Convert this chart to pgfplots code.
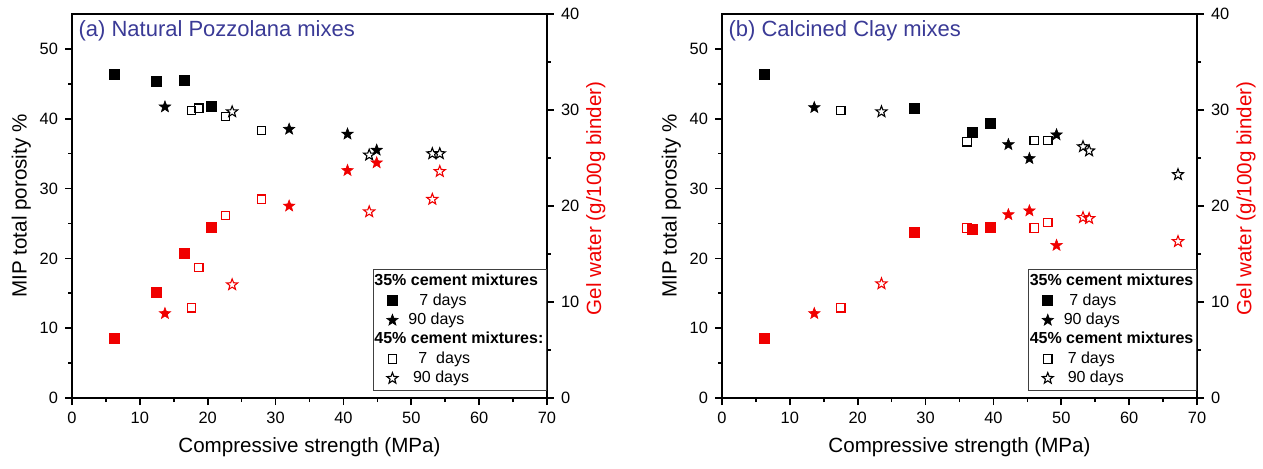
\documentclass[border=0pt]{standalone}
\usepackage{pgfplots}
\pgfplotsset{compat=1.18}
\usepackage{pgfplotstable}
\usepackage{fontspec}
\setmainfont{Liberation Sans}

\definecolor{titleblue}{RGB}{58,58,150}
\definecolor{gelred}{RGB}{240,0,0}

% five-pointed star marks: filled and outlined
\pgfdeclareplotmark{pstar*}{%
  \pgfpathmoveto{\pgfpointpolar{90}{\pgfplotmarksize}}%
  \foreach \k in {0,...,4}{%
    \pgfpathlineto{\pgfpointpolar{126+72*\k}{0.42\pgfplotmarksize}}%
    \pgfpathlineto{\pgfpointpolar{162+72*\k}{\pgfplotmarksize}}%
  }%
  \pgfpathclose
  \pgfusepathqfillstroke}
\pgfdeclareplotmark{pstar}{%
  \pgfpathmoveto{\pgfpointpolar{90}{\pgfplotmarksize}}%
  \foreach \k in {0,...,4}{%
    \pgfpathlineto{\pgfpointpolar{126+72*\k}{0.42\pgfplotmarksize}}%
    \pgfpathlineto{\pgfpointpolar{162+72*\k}{\pgfplotmarksize}}%
  }%
  \pgfpathclose
  \pgfusepathqstroke}

% columns: compressive strength (MPa), MIP total porosity (%), gel water (g/100g binder)
% (a) natural pozzolana
\pgfplotstableread{
x    por   gel
6.2  46.4  6.2
12.5 45.3  11.0
16.5 45.5  15.1
20.5 41.7  17.8
}\npSevenA
\pgfplotstableread{
x    por   gel
13.7 41.7  8.8
32.0 38.5  20.0
40.6 37.8  23.7
44.9 35.5  24.5
}\npNinetyA
\pgfplotstableread{
x    por   gel
17.6 41.2  9.4
18.7 41.5  13.6
22.6 40.3  19.0
27.9 38.3  20.7
}\npSevenB
\pgfplotstableread{
x    por   gel
23.6 41.0  11.8
43.8 34.8  19.4
53.1 35.0  20.7
54.2 35.0  23.6
}\npNinetyB
% (b) calcined clay
\pgfplotstableread{
x    por   gel
6.2  46.4  6.2
28.3 41.5  17.3
36.9 38.0  17.6
39.6 39.4  17.8
}\ccSevenA
\pgfplotstableread{
x    por   gel
13.6 41.6  8.8
42.2 36.3  19.1
45.3 34.3  19.5
49.3 37.7  15.9
}\ccNinetyA
\pgfplotstableread{
x    por   gel
17.5 41.2  9.4
36.1 36.7  17.7
46.0 36.9  17.7
48.0 36.9  18.3
}\ccSevenB
\pgfplotstableread{
x    por   gel
23.5 41.0  11.9
53.2 36.0  18.8
54.1 35.4  18.7
67.2 32.0  16.3
}\ccNinetyB

\pgfplotsset{
  panel base/.style={
    scale only axis, width=237.5pt, height=192pt, anchor=south west,
    xmin=0, xmax=70, clip=false,
    tick align=outside,
    major tick length=3.5pt, minor tick length=2pt,
    every tick/.append style={black, line width=0.8pt},
    axis line style={line width=1pt},
    /pgf/number format/assume math mode=true,
    tick label style={font=\fontsize{8.2}{9}\selectfont},
    label style={font=\fontsize{10.3}{12}\selectfont},
  },
  porosity axis/.style={
    panel base,
    ymin=0, ymax=55,
    xtick={0,10,...,70}, minor x tick num=1,
    ytick={0,10,...,50}, minor y tick num=1,
    xtick pos=left, ytick pos=left,
    xlabel={Compressive strength (MPa)},
    ylabel={MIP total porosity \%},
    xlabel style={at={(axis description cs:0.5,-0.128)}, anchor=center},
    ylabel style={at={(axis description cs:-0.107,0.5)}, anchor=center},
  },
  gel axis/.style={
    panel base,
    axis x line=none, axis y line*=right,
    ymin=0, ymax=40,
    ytick={0,10,...,40}, minor y tick num=1,
    ylabel={Gel water (g/100g binder)},
    ylabel style={text=gelred, at={(axis description cs:1.103,0.52)}, anchor=center},
    legend style={
      at={(axis description cs:1,0.018)}, anchor=south east,
      draw=black!75, line width=0.6pt, fill=white,
      inner xsep=1pt, inner ysep=1.2pt,
      font=\fontsize{8}{9.5}\selectfont,
      nodes={inner ysep=1.2pt, inner xsep=0.5pt},
      cells={anchor=west},
    },
  },
  fsq/.style={only marks, mark=square*, mark size=2.5pt, forget plot},
  osq/.style={only marks, mark=square, mark size=2.1pt, line width=0.6pt, forget plot},
  fst/.style={only marks, mark=pstar*, mark size=3pt, line width=0.3pt, forget plot},
  ost/.style={only marks, mark=pstar, mark size=2.9pt, line width=0.55pt, forget plot},
  header/.style={legend image code/.code={}},
  % legend symbol: one mark in a fixed-width cell
  mkimg/.style={legend image code/.code={%
      \path[draw=none, fill=none] (0pt,-1pt) rectangle (16pt,1pt);
      \draw[##1] plot coordinates {(8.5pt,0pt)};}},
  lg fsq/.style={only marks, mark=square*, mark size=2.5pt, black, mkimg},
  lg fst/.style={only marks, mark=pstar*, mark size=3pt, line width=0.3pt, black, mkimg},
  lg osq/.style={only marks, mark=square, mark size=2.1pt, line width=0.6pt, black, mkimg},
  lg ost/.style={only marks, mark=pstar, mark size=2.9pt, line width=0.55pt, black, mkimg},
}

\begin{document}
\begin{tikzpicture}
\useasboundingbox (0,0) rectangle (631.5pt,234pt);

% ---------- (a) Natural Pozzolana ----------
\begin{axis}[porosity axis, at={(36pt,35pt)}]
  \addplot[fsq, black] table[x=x, y=por] {\npSevenA};
  \addplot[fst, black] table[x=x, y=por] {\npNinetyA};
  \addplot[osq, black] table[x=x, y=por] {\npSevenB};
  \addplot[ost, black] table[x=x, y=por] {\npNinetyB};
  \node[anchor=west, inner sep=0pt, text=titleblue, font=\fontsize{11}{13}\selectfont]
    at (axis description cs:0.013,0.956) {(a) Natural Pozzolana mixes};
\end{axis}
\begin{axis}[gel axis, at={(36pt,35pt)}]
  \addplot[fsq, gelred] table[x=x, y=gel] {\npSevenA};
  \addplot[fst, gelred] table[x=x, y=gel] {\npNinetyA};
  \addplot[osq, gelred] table[x=x, y=gel] {\npSevenB};
  \addplot[ost, gelred] table[x=x, y=gel] {\npNinetyB};
  \addlegendimage{header}
  \addlegendentry{\hspace*{-17pt}\textbf{35\% cement mixtures}}
  \addlegendimage{lg fsq}
  \addlegendentry{\hspace*{5.5pt}7 days}
  \addlegendimage{lg fst}
  \addlegendentry{90 days}
  \addlegendimage{header}
  \addlegendentry{\hspace*{-17pt}\textbf{45\% cement mixtures:}}
  \addlegendimage{lg osq}
  \addlegendentry{\hspace*{5pt}7\ \ days}
  \addlegendimage{lg ost}
  \addlegendentry{\hspace*{2.3pt}90 days}
\end{axis}

% ---------- (b) Calcined Clay ----------
\begin{axis}[porosity axis, at={(361pt,35pt)}]
  \addplot[fsq, black] table[x=x, y=por] {\ccSevenA};
  \addplot[fst, black] table[x=x, y=por] {\ccNinetyA};
  \addplot[osq, black] table[x=x, y=por] {\ccSevenB};
  \addplot[ost, black] table[x=x, y=por] {\ccNinetyB};
  \node[anchor=west, inner sep=0pt, text=titleblue, font=\fontsize{11}{13}\selectfont]
    at (axis description cs:0.013,0.956) {(b) Calcined Clay mixes};
\end{axis}
\begin{axis}[gel axis, at={(361pt,35pt)}]
  \addplot[fsq, gelred] table[x=x, y=gel] {\ccSevenA};
  \addplot[fst, gelred] table[x=x, y=gel] {\ccNinetyA};
  \addplot[osq, gelred] table[x=x, y=gel] {\ccSevenB};
  \addplot[ost, gelred] table[x=x, y=gel] {\ccNinetyB};
  \addlegendimage{header}
  \addlegendentry{\hspace*{-17pt}\textbf{35\% cement mixtures}}
  \addlegendimage{lg fsq}
  \addlegendentry{\hspace*{2.8pt}7 days}
  \addlegendimage{lg fst}
  \addlegendentry{90 days}
  \addlegendimage{header}
  \addlegendentry{\hspace*{-17pt}\textbf{45\% cement mixtures}}
  \addlegendimage{lg osq}
  \addlegendentry{\hspace*{2pt}7 days}
  \addlegendimage{lg ost}
  \addlegendentry{\hspace*{2pt}90 days}
\end{axis}
\end{tikzpicture}
\end{document}
